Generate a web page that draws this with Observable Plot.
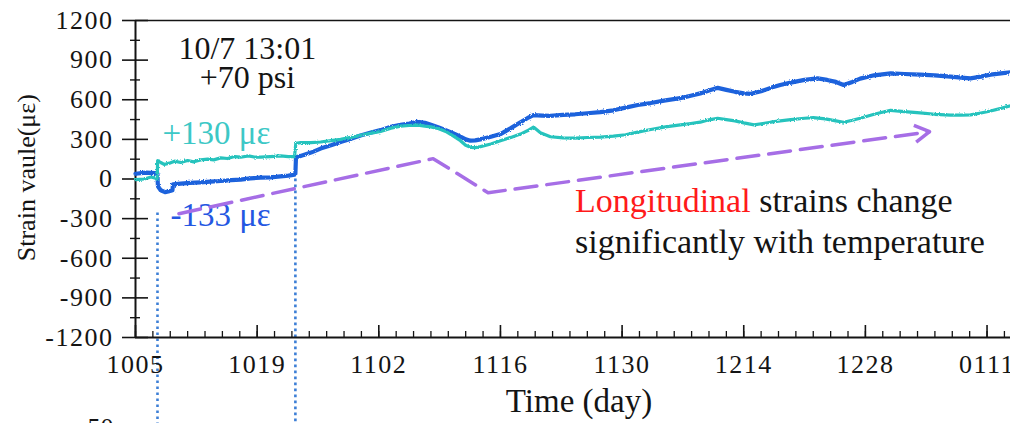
<!DOCTYPE html>
<html><head><meta charset="utf-8">
<script src="https://cdn.jsdelivr.net/npm/d3@7"></script>
<script src="https://cdn.jsdelivr.net/npm/@observablehq/plot@0.6"></script>
<style>
html,body{margin:0;padding:0;background:#fff;}
#chart svg{display:block;}
g[aria-label="y-axis tick label"] text, g[aria-label="x-axis tick label"] text {letter-spacing:1.5px;}
</style></head><body><div id="chart"></div>
<script>
// ---- data (days since 10/05, strain in microstrain) ----
const blueDays = [0,1.2,2.3,2.52,2.58,2.9,3.4,3.9,4.25,4.32,5.2,6.3,7.5,8.6,9.8,11,12.1,13.2,14.4,15.5,16.7,17.6,18.3,18.4,18.47,19.0,20.2,21.3,22.5,23.6,24.8,25.9,27,28.2,29.4,30.5,31.5,32.5,33.3,34,34.9,35.7,36.6,37.4,38.0,38.55,39.1,39.7,40.9,42,43.2,44.3,45.1,45.8,46.8,47.75,49.2,50.6,52,53.5,55,56.4,57.8,59.3,61,62.7,63.9,65,66,67,68,69,70,70.8,72,73.1,74.2,75.4,77,78.5,79.6,80.6,81.5,82.5,83.4,85,86.9,88.5,90.3,92,93.8,95,96.1,97.3,98.4,99.6,100.7];
const blueStrain = [40,48,45,42,-55,-85,-100,-92,-85,-40,-35,-30,-25,-20,-15,-8,-5,5,10,12,20,25,32,40,165,175,200,230,255,280,305,330,350,370,395,410,420,432,425,410,390,370,345,320,300,290,292,300,320,340,385,430,460,483,480,478,485,490,498,506,520,540,560,575,595,612,630,648,670,690,675,660,648,645,665,690,712,730,750,762,750,735,712,735,760,785,800,795,790,785,775,768,762,775,790,800,808];
const cyanDays = [0,1.0,1.8,2.3,2.5,2.55,2.9,3.3,3.9,4.5,5.2,6.0,6.7,7.5,8.3,9.0,9.8,10.6,11.4,12.1,13.0,13.8,14.4,15.5,16.7,17.6,18.3,18.45,19,20.2,21.3,22.5,23.6,24.8,25.9,27,28.2,29.4,30.5,31.5,32.5,33.3,34,34.9,35.7,36.6,37.4,38.0,38.55,39.1,39.7,40.9,42,43.2,44.3,45.1,45.8,46.6,47.75,49.2,50.6,52,53.5,55,56.4,57.8,59.3,61,62.7,63.9,65,66,67,68,69,70,71.2,72.2,73.1,74.2,75.4,77,78,79.4,80.6,81.5,82.5,83.4,85,86.9,88.5,90.3,92,93.8,95,96.1,97.3,98.4,99.6,100.7];
const cyanStrain = [-5,0,15,5,5,140,125,110,120,135,125,140,130,145,150,145,160,155,170,165,175,165,165,170,175,170,170,270,275,275,280,290,300,315,330,345,360,385,400,405,408,400,395,380,360,325,290,255,240,238,245,265,290,315,340,365,393,350,320,312,310,314,317,325,335,355,375,395,410,420,430,448,460,450,440,425,410,420,430,440,450,460,465,455,440,430,445,460,490,520,510,500,490,483,483,485,500,515,535,555];

// events (pressure steps): day and top of the dotted marker
const eventDays = [2.53, 18.4];
const eventTops = [-257, 45];

// trend arrow vertices
const trendDays = [5.0, 34.26, 40.58, 91.39];
const trendStrain = [-263, 154, -104, 358];

// ticks
const xMajorDays = [0,14,28,42,56,70,84,98];
const xTickLabels = ["1005","1019","1102","1116","1130","1214","1228","0111"];
const yTicks = [-1200,-900,-600,-300,0,300,600,900,1200];

// ---- layout ----
const W = 1010, H = 423, ML = 135, MR = 0, MT = 20, MB = 86;
const XD = [0, 100.7], YD = [-1200, 1200];

// ---- build tables ----
const blue = blueDays.map((d,i)=>({day:d, value:blueStrain[i]}));
const cyan = cyanDays.map((d,i)=>({day:d, value:cyanStrain[i]}));
const events = eventDays.map((d,i)=>({day:d, top:eventTops[i]}));
const trend = trendDays.map((d,i)=>({day:d, value:trendStrain[i]}));

// chevron arrowhead at the end of the trend (computed in pixel space)
const sx = d3.scaleLinear(XD, [ML, W - MR]);
const sy = d3.scaleLinear(YD, [H - MB, MT]);
const n = trend.length;
const tip = [sx(trend[n-1].day), sy(trend[n-1].value)];
const prv = [sx(trend[n-2].day), sy(trend[n-2].value)];
const len = Math.hypot(tip[0]-prv[0], tip[1]-prv[1]);
const bx = (prv[0]-tip[0])/len, by = (prv[1]-tip[1])/len;
const wingLen = 17, a = Math.PI/6;
const w1 = [tip[0] + wingLen*(bx*Math.cos(a) - by*Math.sin(a)), tip[1] + wingLen*(bx*Math.sin(a) + by*Math.cos(a))];
const w2 = [tip[0] + wingLen*(bx*Math.cos(a) + by*Math.sin(a)), tip[1] + wingLen*(-bx*Math.sin(a) + by*Math.cos(a))];
const chevron = [w1, tip, w2].map(p => ({day: sx.invert(p[0]), value: sy.invert(p[1])}));

const yMinor = d3.range(-1050, 1200, 300);
const xMinor = d3.range(0, 101, 2);

const FONT = "Liberation Serif, Times New Roman, serif";
const INK = "#141414";
const line1 = "Longitudinal strains change";
const PURPLE = "#a66ee6";

const chart = Plot.plot({
  width: W, height: H,
  marginLeft: ML, marginRight: MR, marginTop: MT, marginBottom: MB,
  style: {fontFamily: FONT, background: "#fff", overflow: "hidden"},
  x: {type: "linear", domain: XD},
  y: {domain: YD},
  marks: [
    // dotted event markers
    Plot.ruleX(events, {x: "day", y1: "top", y2: -1990, stroke: "#3d7fd6", strokeWidth: 2.6, strokeDasharray: "2.6,3.4"}),
    // frame
    Plot.ruleY([-1200], {stroke: INK, strokeWidth: 2}),
    Plot.ruleY([1200], {stroke: INK, strokeWidth: 1.5}),
    Plot.ruleX([0], {stroke: INK, strokeWidth: 2}),
    // y axis: ticks crossing the axis
    Plot.axisY(yTicks, {anchor: "left", tickSize: 13, tickPadding: 9, fontSize: 26, color: INK, strokeWidth: 1.6, label: null, tickFormat: d => String(d)}),
    Plot.axisY(yTicks, {anchor: "left", tickSize: 13, dx: 13, tickFormat: () => "", color: INK, strokeWidth: 1.6, label: null}),
    Plot.axisY(yMinor, {anchor: "left", tickSize: 5, tickFormat: () => "", color: INK, strokeWidth: 1.4, label: null}),
    Plot.axisY(yMinor, {anchor: "left", tickSize: 5, dx: 5, tickFormat: () => "", color: INK, strokeWidth: 1.4, label: null}),
    // x axis: inward ticks
    Plot.axisX(xMajorDays, {anchor: "bottom", tickSize: 12, dy: -12, tickFormat: () => "", color: INK, strokeWidth: 1.6, label: null}),
    Plot.axisX(xMinor, {anchor: "bottom", tickSize: 6, dy: -6, tickFormat: () => "", color: INK, strokeWidth: 1.3, label: null}),
    Plot.axisX(xMajorDays, {anchor: "bottom", tickSize: 0, tickPadding: 17, fontSize: 26, color: INK, label: null,
      tickFormat: d => xTickLabels[xMajorDays.indexOf(d)]}),
    // series
    Plot.line(blue, {x: "day", y: "value", stroke: "#1f62dc", strokeWidth: 4.2, strokeLinejoin: "round"}),
    Plot.line(cyan, {x: "day", y: "value", stroke: "#27c3bd", strokeWidth: 3.2, strokeLinejoin: "round"}),
    // annotations
    Plot.text(["10/7 13:01"], {x: 12.87, y: 911, text: d => d, textAnchor: "middle", lineAnchor: "bottom", fontSize: 32, fill: INK, fontFamily: FONT}),
    Plot.text(["+70 psi"], {x: 12.87, y: 692, text: d => d, textAnchor: "middle", lineAnchor: "bottom", fontSize: 32, fill: INK, fontFamily: FONT}),
    Plot.text(["+130 με"], {x: 3.1, y: 267, text: d => d, textAnchor: "start", lineAnchor: "bottom", fontSize: 33, fill: "#3cc8c6", fontFamily: FONT}),
    Plot.text(["-133 με"], {x: 4.02, y: -354, text: d => d, textAnchor: "start", lineAnchor: "bottom", fontSize: 33, fill: "#2457e2", fontFamily: FONT}),
    Plot.text([line1], {x: 50.58, y: -247, text: d => d, textAnchor: "start", lineAnchor: "bottom", fontSize: 34, fill: INK, fontFamily: FONT}),
    Plot.text(["significantly with temperature"], {x: 50.58, y: -558, text: d => d, textAnchor: "start", lineAnchor: "bottom", fontSize: 34, fill: INK, fontFamily: FONT}),
    // axis titles
    Plot.text(["Time (day)"], {x: 51.04, y: -1763, text: d => d, textAnchor: "middle", lineAnchor: "bottom", fontSize: 33, fill: INK, fontFamily: FONT}),
    Plot.text(["Strain vaule(με)"], {frameAnchor: "left", dx: -109, y: 10, text: d => d, rotate: -90, textAnchor: "middle", lineAnchor: "middle", fontSize: 26, fill: INK, fontFamily: FONT}),
    // cut-off label of the panel below
    Plot.text(["-50"], {frameAnchor: "left", dx: -22, y: -1945, text: d => d, textAnchor: "end", lineAnchor: "bottom", fontSize: 26, fill: INK, fontFamily: FONT}),
    // trend arrow
    Plot.line(trend, {x: "day", y: "value", stroke: PURPLE, strokeWidth: 3.5, strokeDasharray: "22,10"}),
    Plot.line(chevron, {x: "day", y: "value", stroke: PURPLE, strokeWidth: 3.5, strokeLinejoin: "miter", strokeLinecap: "butt"})
  ]
});

// red first word
d3.select(chart).selectAll("text").filter(function(){ return this.textContent === line1; }).each(function(){
  const t = d3.select(this);
  t.text(null);
  t.append("tspan").attr("fill", "#ff1a1a").text("Longitudinal");
  t.append("tspan").text(" strains change");
});

// slightly rough, noisy look of the measured strain lines
const svg = d3.select(chart);
const defs = svg.insert("defs", ":first-child");
const f = defs.append("filter").attr("id", "rough").attr("x", "-2%").attr("y", "-10%").attr("width", "104%").attr("height", "120%");
f.append("feTurbulence").attr("type", "fractalNoise").attr("baseFrequency", "0.8").attr("numOctaves", 1).attr("seed", 4).attr("result", "noise");
f.append("feDisplacementMap").attr("in", "SourceGraphic").attr("in2", "noise").attr("scale", 3);
svg.selectAll('g[aria-label="line"]').filter((d, i) => i < 2).attr("filter", "url(#rough)");

document.getElementById("chart").appendChild(chart);
</script></body></html>
